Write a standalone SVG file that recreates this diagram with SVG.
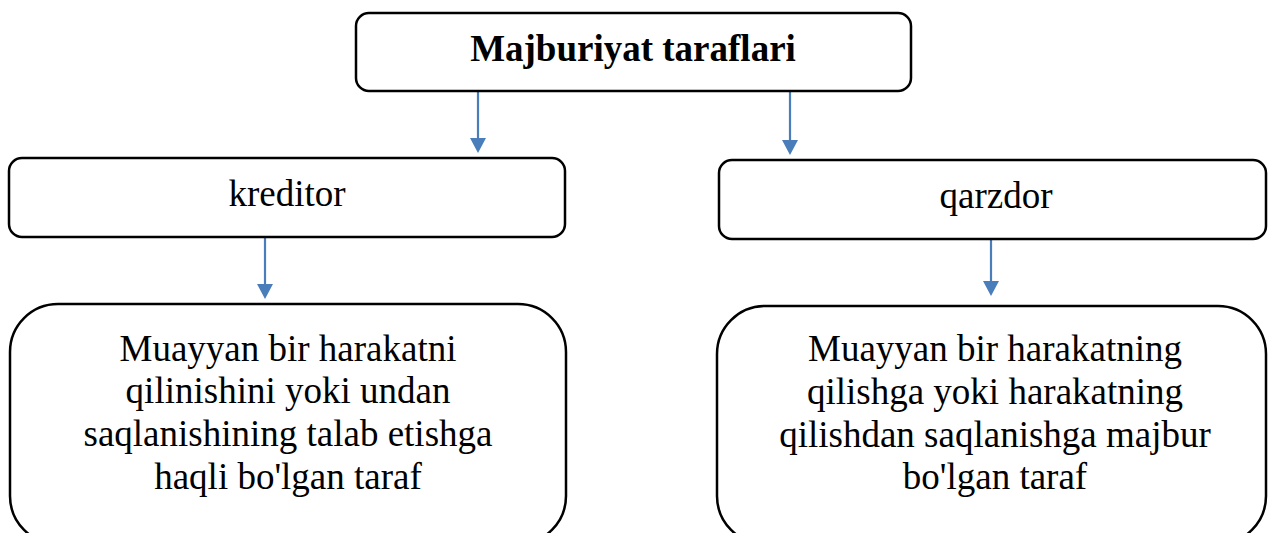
<svg xmlns="http://www.w3.org/2000/svg" width="1268" height="533" viewBox="0 0 1268 533">
<style>
.box{fill:#fff;stroke:#000;stroke-width:2.5}
.t{font-family:"Liberation Serif","Times New Roman",serif;font-size:37px;fill:#000;text-anchor:middle}
.b{font-weight:bold}
.c{stroke:#4a7ebb;stroke-width:2.2;fill:none}
</style>
<defs>
<marker id="ah" viewBox="0 0 15 16" refX="0" refY="8" markerWidth="15" markerHeight="16" markerUnits="userSpaceOnUse" orient="auto">
<path d="M0,0 L15,8 L0,16 z" fill="#4a7ebb"/>
</marker>
</defs>
<rect width="1268" height="533" fill="#fff"/>
<g id="connectors">
<line class="c" x1="478" y1="91" x2="478" y2="138" marker-end="url(#ah)"/>
<line class="c" x1="790" y1="91" x2="790" y2="140" marker-end="url(#ah)"/>
<line class="c" x1="265" y1="237" x2="265" y2="284" marker-end="url(#ah)"/>
<line class="c" x1="991" y1="235" x2="991" y2="281" marker-end="url(#ah)"/>
</g>
<g id="root">
<rect class="box" x="356" y="13" width="555" height="78" rx="13"/>
<text class="t b" x="633" y="61">Majburiyat taraflari</text>
</g>
<g id="kreditor">
<rect class="box" x="9" y="158" width="556" height="79" rx="13"/>
<text class="t" x="287" y="206">kreditor</text>
</g>
<g id="qarzdor">
<rect class="box" x="719" y="160" width="547" height="79" rx="13"/>
<text class="t" x="996" y="208">qarzdor</text>
</g>
<g id="kreditor-desc">
<rect class="box" x="10" y="304" width="556" height="240" rx="48"/>
<text class="t" x="288" y="361">Muayyan bir harakatni</text>
<text class="t" x="288" y="403">qilinishini yoki undan</text>
<text class="t" x="288" y="446">saqlanishining talab etishga</text>
<text class="t" x="288" y="489">haqli bo'lgan taraf</text>
</g>
<g id="qarzdor-desc">
<rect class="box" x="717" y="306" width="549" height="238" rx="48"/>
<text class="t" x="995" y="361">Muayyan bir harakatning</text>
<text class="t" x="995" y="404">qilishga yoki harakatning</text>
<text class="t" x="995" y="447">qilishdan saqlanishga majbur</text>
<text class="t" x="995" y="489">bo'lgan taraf</text>
</g>
</svg>
